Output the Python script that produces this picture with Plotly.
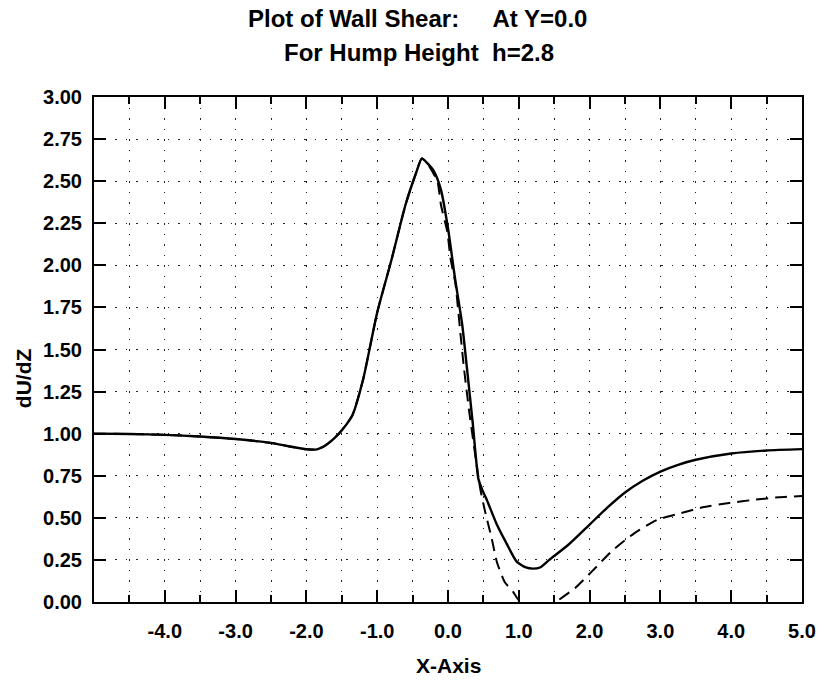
import plotly.graph_objects as go

# Wall shear dU/dZ along the wall (Y = 0.0), hump height h = 2.8
x_solid = [-5.0, -4.5, -4.0, -3.5, -3.0, -2.5, -2.25, -2.0, -1.85, -1.75, -1.6, -1.5,
           -1.35, -1.2, -1.0, -0.8, -0.6, -0.45, -0.37, -0.3, -0.2, -0.1, 0.0, 0.1,
           0.2, 0.27, 0.35, 0.43, 0.49, 0.55, 0.69, 0.83, 0.97, 1.1, 1.2, 1.3, 1.43, 1.7,
           2.0, 2.25, 2.5, 2.75, 3.0, 3.25, 3.5, 4.0, 4.5, 5.0]
y_solid = [1.000, 0.998, 0.993, 0.983, 0.968, 0.945, 0.925, 0.907, 0.907, 0.925, 0.975, 1.02,
           1.11, 1.32, 1.72, 2.03, 2.36, 2.55, 2.635, 2.61, 2.56, 2.45, 2.22, 1.92,
           1.65, 1.38, 1.06, 0.73, 0.66, 0.605, 0.46, 0.345, 0.24, 0.205, 0.198, 0.205, 0.25, 0.34,
           0.46, 0.56, 0.65, 0.72, 0.775, 0.815, 0.845, 0.882, 0.9, 0.908]

x_dashed = [-5.0, -4.5, -4.0, -3.5, -3.0, -2.5, -2.25, -2.0, -1.85, -1.75, -1.6, -1.5,
            -1.35, -1.2, -1.0, -0.8, -0.6, -0.45, -0.37, -0.3, -0.15, -0.1, -0.01, 0.036,
            0.106, 0.14, 0.177, 0.22, 0.3, 0.455, 0.525, 0.618, 0.69, 0.80, 0.92, 1.0,
            1.25, 1.5, 1.8, 2.04, 2.32, 2.63, 2.95, 3.28, 3.6, 3.97, 4.34, 4.67, 5.0]
y_dashed = [1.000, 0.998, 0.993, 0.983, 0.968, 0.945, 0.925, 0.907, 0.907, 0.925, 0.975, 1.02,
            1.11, 1.32, 1.72, 2.03, 2.36, 2.55, 2.635, 2.61, 2.50, 2.36, 2.20, 2.04,
            1.89, 1.75, 1.59, 1.41, 1.13, 0.674, 0.536, 0.377, 0.238, 0.119, 0.06, 0.01,
            -0.05, -0.005, 0.085, 0.185, 0.305, 0.408, 0.487, 0.527, 0.563, 0.588, 0.608, 0.622, 0.63]

x_ticks = [-4.0, -3.0, -2.0, -1.0, 0.0, 1.0, 2.0, 3.0, 4.0, 5.0]
x_minor = [-4.5, -3.5, -2.5, -1.5, -0.5, 0.5, 1.5, 2.5, 3.5, 4.5]
y_ticks = [0.0, 0.25, 0.5, 0.75, 1.0, 1.25, 1.5, 1.75, 2.0, 2.25, 2.5, 2.75, 3.0]

FONT = "Liberation Sans, Arial, Helvetica, sans-serif"
GRID = dict(gridcolor="#222", gridwidth=1.3, griddash="1.5px,9px")
TICKFONT = dict(family=FONT, size=20, color="black", weight="bold")

fig = go.Figure()
fig.add_trace(go.Scatter(x=x_dashed, y=y_dashed, mode="lines",
                         line=dict(color="black", width=2, dash="12px,7px",
                                   shape="spline", smoothing=0.5),
                         showlegend=False))
fig.add_trace(go.Scatter(x=x_solid, y=y_solid, mode="lines",
                         line=dict(color="black", width=2.4, shape="spline", smoothing=0.6),
                         showlegend=False))

fig.update_layout(
    width=828, height=683,
    margin=dict(l=94, r=14, t=97, b=81),
    paper_bgcolor="white", plot_bgcolor="white",
    font=dict(family=FONT, color="black", size=19),
    xaxis=dict(range=[-5, 5], tickmode="array", tickvals=x_ticks,
               ticktext=[f"{v:.1f}" for v in x_ticks], tickfont=TICKFONT,
               ticks="inside", ticklen=12, tickwidth=2, tickcolor="black",
               showline=True, linewidth=2, linecolor="black", mirror="ticks",
               showgrid=True, zeroline=False, ticklabelstandoff=10,
               minor=dict(tickmode="array", tickvals=x_minor, ticks="inside",
                          ticklen=7, tickwidth=1.5, tickcolor="black",
                          showgrid=True, **GRID),
               **GRID),
    yaxis=dict(range=[0, 3], tickmode="array", tickvals=y_ticks,
               ticktext=[f"{v:.2f}" for v in y_ticks], tickfont=TICKFONT,
               ticks="inside", ticklen=12, tickwidth=2, tickcolor="black",
               showline=True, linewidth=2, linecolor="black", mirror="ticks",
               showgrid=True, zeroline=False, ticklabelstandoff=6,
               **GRID),
    annotations=[
        dict(text="Plot of Wall Shear:\u00a0\u00a0\u00a0\u00a0\u00a0At Y=0.0",
             xref="paper", yref="paper", x=0.457, y=1.156,
             xanchor="center", yanchor="middle", showarrow=False,
             font=dict(size=24, weight="bold")),
        dict(text="For Hump Height\u00a0\u00a0h=2.8",
             xref="paper", yref="paper", x=0.459, y=1.089,
             xanchor="center", yanchor="middle", showarrow=False,
             font=dict(size=24, weight="bold")),
        dict(text="X-Axis", xref="paper", yref="paper", x=0.501, y=-0.125,
             xanchor="center", yanchor="middle", showarrow=False,
             font=dict(size=21, weight="bold")),
        dict(text="dU/dZ", xref="paper", yref="paper", x=-0.0986, y=0.4436,
             xanchor="center", yanchor="middle", showarrow=False, textangle=-90,
             font=dict(size=21, weight="bold")),
    ],
)

fig.write_html("out.html")
